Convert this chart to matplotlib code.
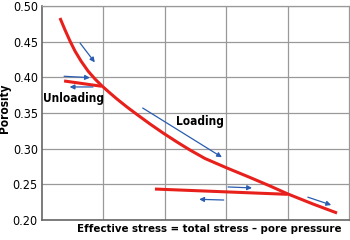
import matplotlib
matplotlib.use('Agg')
from matplotlib import pyplot as plt
from matplotlib import font_manager as fm

# loading curve (main compaction trend)
load_x = [0.293, 0.375, 0.456, 0.537, 0.635, 0.749, 0.863, 0.977, 1.107, 1.221, 1.384, 1.547,
          1.759, 1.971, 2.199, 2.410, 2.655, 3.013, 3.388, 3.713, 4.007, 4.414, 4.805]
load_y = [0.4832, 0.4664, 0.4509, 0.4369, 0.4229, 0.4089, 0.3977, 0.3879, 0.3780, 0.3696,
          0.3584, 0.3479, 0.3346, 0.3220, 0.3093, 0.2981, 0.2862, 0.2729, 0.2596, 0.2477,
          0.2364, 0.2224, 0.2098]

# unloading branches
unload1_x = [0.36, 0.97]
unload1_y = [0.3949, 0.3875]
unload2_x = [1.84, 4.0]
unload2_y = [0.2434, 0.2360]

# arrows: (x_start, y_start, x_end, y_end)
arrows = [
    (0.62, 0.448, 0.86, 0.421),
    (0.36, 0.4015, 0.78, 0.3995),
    (0.83, 0.3865, 0.45, 0.3865),
    (1.64, 0.357, 2.93, 0.288),
    (3.03, 0.2463, 3.42, 0.245),
    (2.96, 0.228, 2.56, 0.229),
    (4.33, 0.232, 4.71, 0.221),
]

yticks = [0.20, 0.25, 0.30, 0.35, 0.40, 0.45, 0.50]


def narrow_font(bold):
    # look for a condensed / narrow sans face among the installed fonts
    best = None
    for f in fm.fontManager.ttflist:
        name = (f.name + ' ' + f.fname).lower()
        if not ('narrow' in name or 'condensed' in name or f.stretch in ('condensed', 'semi-condensed')):
            continue
        if 'oblique' in name or 'italic' in name or f.style != 'normal':
            continue
        isbold = f.weight in ('bold', 700, 'semibold', 600) or 'bold' in f.fname.lower()
        if isbold != bold:
            continue
        score = 0
        if 'liberation' in name:
            score += 3
        if 'sans' in name:
            score += 1
        if best is None or score > best[0]:
            best = (score, f.fname)
    if best is None:
        return fm.FontProperties(family='DejaVu Sans', weight='bold' if bold else 'normal')
    return fm.FontProperties(fname=best[1])


reg = narrow_font(False)
bld = narrow_font(True)

fig = plt.figure(figsize=(3.5, 2.4), dpi=100)
ax = fig.add_axes([42/350, 20/240, 307/350, 214/240])

red = '#e8201c'
for xs, ys in [(load_x, load_y), (unload1_x, unload1_y), (unload2_x, unload2_y)]:
    ax.plot(xs, ys, color=red, lw=2.2, solid_capstyle='butt', solid_joinstyle='round', zorder=3)

for x0, y0, x1, y1 in arrows:
    ax.annotate('', xy=(x1, y1), xytext=(x0, y0),
                arrowprops=dict(arrowstyle='-|>', color='#2a5db0', lw=0.9,
                                mutation_scale=7, shrinkA=0, shrinkB=0),
                zorder=4)

ax.text(0.513, 0.371, 'Unloading', fontproperties=bld, fontsize=8.5, ha='center', va='center')
ax.text(2.57, 0.3374, 'Loading', fontproperties=bld, fontsize=8.5, ha='center', va='center')

ax.set_xlim(0, 5)
ax.set_ylim(0.20, 0.50)
ax.set_xticks([1, 2, 3, 4])
ax.set_xticklabels([])
ax.set_yticks(yticks)
ax.set_yticklabels(['%.2f' % v for v in yticks])
for lab in ax.get_yticklabels():
    lab.set_fontproperties(reg)
    lab.set_fontsize(9)
ax.tick_params(length=0, pad=3)
ax.grid(True, color='#999999', lw=0.9)
ax.set_axisbelow(True)
for side in ['top', 'right']:
    ax.spines[side].set_color('#999999')
    ax.spines[side].set_linewidth(0.9)
for side in ['left', 'bottom']:
    ax.spines[side].set_color('#666666')
    ax.spines[side].set_linewidth(1.2)

fig.text(209/350, 1 - 229/240, 'Effective stress = total stress \u2013 pore pressure',
         fontproperties=bld, fontsize=8.2, ha='center', va='center')
fig.text(5/350, 1 - 108/240, 'Porosity', fontproperties=bld, fontsize=8.5,
         ha='center', va='center', rotation=90)

fig.savefig('out.png', dpi=100)
